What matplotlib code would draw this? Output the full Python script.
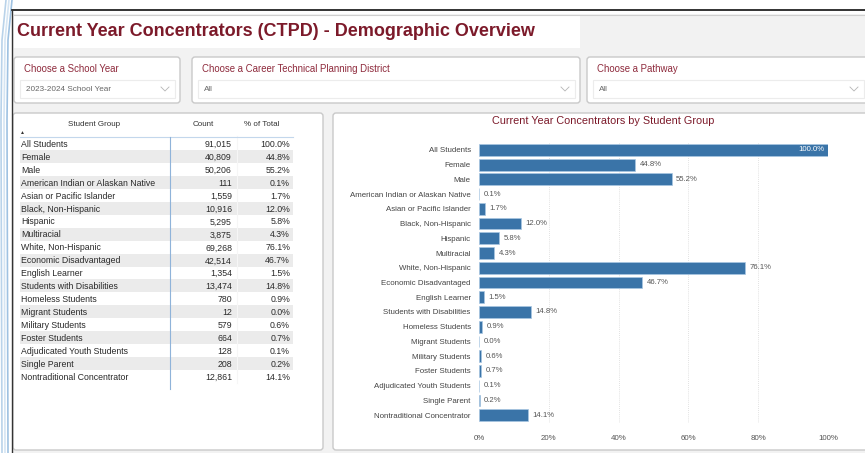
import matplotlib.pyplot as plt
from matplotlib.patches import FancyBboxPatch, Rectangle

plt.rcParams['font.family'] = ['Liberation Sans', 'DejaVu Sans']

# Data
GROUPS = ['All Students', 'Female', 'Male', 'American Indian or Alaskan Native',
          'Asian or Pacific Islander', 'Black, Non-Hispanic', 'Hispanic', 'Multiracial',
          'White, Non-Hispanic', 'Economic Disadvantaged', 'English Learner',
          'Students with Disabilities', 'Homeless Students', 'Migrant Students',
          'Military Students', 'Foster Students', 'Adjudicated Youth Students',
          'Single Parent', 'Nontraditional Concentrator']
COUNTS = [91015, 40809, 50206, 111, 1559, 10916, 5295, 3875, 69268, 42514,
          1354, 13474, 780, 12, 579, 664, 128, 208, 12861]
PCTS = [100.0, 44.8, 55.2, 0.1, 1.7, 12.0, 5.8, 4.3, 76.1, 46.7,
        1.5, 14.8, 0.9, 0.0, 0.6, 0.7, 0.1, 0.2, 14.1]
XTICKS = [0, 20, 40, 60, 80, 100]
FILTERS = [('Choose a School Year', '2023-2024 School Year'),
           ('Choose a Career Technical Planning District', 'All'),
           ('Choose a Pathway', 'All')]

W, H = 865, 453
TITLE_RED = '#7c1a2a'
LABEL_RED = '#8e2a3c'
BAR_BLUE = '#3a74a8'
EDGE = '#c9c9c9'

fig = plt.figure(figsize=(W / 100, H / 100), dpi=100)
fig.patch.set_facecolor('white')

# background canvas in pixel coords
bg = fig.add_axes([0, 0, 1, 1])
bg.set_xlim(0, W)
bg.set_ylim(H, 0)
bg.axis('off')

# slide decoration on the far left
for x0, c in [(2, '#b9d3ea'), (5, '#d5e5f3'), (8, '#9fc2e2')]:
    bg.plot([x0 + 4, x0, x0 - 1, x0], [0, 40, 120, 453], color=c, lw=1.2)

bg.add_patch(Rectangle((12, 14), W, H, facecolor='#f2f2f2', edgecolor='none'))
bg.plot([12, W], [9.5, 9.5], color='#111111', lw=1.2)
bg.plot([12, 12], [9.5, H], color='#333333', lw=1.0)
bg.plot([14, W], [14.5, 14.5], color='#cfcfcf', lw=0.8)

# title block
bg.add_patch(Rectangle((14, 15), 566, 33, facecolor='white', edgecolor='none'))
bg.text(17, 31, 'Current Year Concentrators (CTPD) - Demographic Overview',
        fontsize=13.0, fontweight='bold', color=TITLE_RED, va='center', ha='left')

# filter boxes
boxes = [(14, 180), (192, 580), (587, 870)]
for (x0, x1), (lab, val) in zip(boxes, FILTERS):
    bg.add_patch(FancyBboxPatch((x0, 57), x1 - x0, 46, boxstyle='round,pad=0,rounding_size=3',
                                facecolor='white', edgecolor=EDGE, lw=1.0))
    bg.text(x0 + 10, 69, lab, fontsize=6.9, color=LABEL_RED, va='center')
    fx1 = min(x1 - 5, W - 1)
    bg.add_patch(Rectangle((x0 + 6, 80), fx1 - x0 - 6, 18, facecolor='white',
                           edgecolor='#ececec', lw=0.8))
    bg.text(x0 + 12, 89.5, val, fontsize=5.9, color='#666666', va='center')
    cx = fx1 - 10
    bg.plot([cx - 4, cx, cx + 4], [87, 91, 87], color='#b5b5b5', lw=0.6)

# panels
bg.add_patch(FancyBboxPatch((13, 113), 310, 337, boxstyle='round,pad=0,rounding_size=3',
                            facecolor='white', edgecolor=EDGE, lw=1.0))
bg.add_patch(FancyBboxPatch((333, 113), 540, 337, boxstyle='round,pad=0,rounding_size=3',
                            facecolor='white', edgecolor=EDGE, lw=1.0))

# table
row_h = 12.95
y0 = 143.5
hdr_y = 125
bg.text(94, hdr_y, 'Student Group', fontsize=5.8, color='#333333', ha='center', va='center')
bg.text(203, hdr_y, 'Count', fontsize=5.8, color='#333333', ha='center', va='center')
bg.text(262, hdr_y, '% of Total', fontsize=5.8, color='#333333', ha='center', va='center')
bg.text(20, 133, '\u25b2', fontsize=3.6, color='#333333', ha='left', va='center')
for i, (g, c, p) in enumerate(zip(GROUPS, COUNTS, PCTS)):
    yc = y0 + i * row_h
    if i % 2 == 1:
        bg.add_patch(Rectangle((20, yc - row_h / 2), 273, row_h, facecolor='#ebebeb',
                               edgecolor='none'))
    bg.text(21, yc + 0.8, g, fontsize=6.3, color='#2a2a2a', va='center', ha='left')
    bg.text(232, yc + 0.8, f'{c:,}', fontsize=6.3, color='#2a2a2a', va='center', ha='right')
    bg.text(290, yc + 0.8, f'{p:.1f}%', fontsize=6.3, color='#2a2a2a', va='center', ha='right')
table_bottom = y0 + (len(GROUPS) - 0.5) * row_h
bg.plot([237, 237], [136, table_bottom], color='#f6f6f6', lw=0.8)
bg.plot([20, 293], [136.5, 136.5], color='#c3d7ec', lw=0.8)
bg.plot([170, 170], [136.5, table_bottom + 6], color='#8fb3d9', lw=0.8)

# chart title
bg.text(603, 121.5, 'Current Year Concentrators by Student Group', fontsize=7.8,
        color=TITLE_RED, ha='center', va='center')

# bar chart
ax = fig.add_axes([479 / W, 1 - 422.5 / H, (828 - 479) / W, 280 / H])
ax.set_facecolor('none')
ypos = list(range(len(GROUPS)))
ax.barh(ypos, PCTS, height=0.8, color=BAR_BLUE, edgecolor='#a8c6e2', lw=0.5, zorder=3)
ax.set_xlim(0, 100)
ax.set_ylim(len(GROUPS) - 0.5, -0.5)
ax.set_yticks(ypos)
ax.set_yticklabels(GROUPS, fontsize=5.7, color='#444444')
ax.set_xticks(XTICKS)
ax.set_xticklabels([f'{t}%' for t in XTICKS], fontsize=5.7, color='#555555')
ax.tick_params(axis='both', length=0, pad=6)
ax.tick_params(axis='x', pad=9)
for t in XTICKS[1:]:
    ax.axvline(t, color='#d8d8d8', lw=0.6, ls=(0, (1, 1.5)), zorder=1)
for s in ax.spines.values():
    s.set_visible(False)
for y, p in zip(ypos, PCTS):
    if p >= 90:
        ax.text(p - 0.9, y, f'{p:.1f}%', fontsize=5.6, color='white', ha='right', va='center', zorder=4)
    else:
        ax.text(p + 1.3, y, f'{p:.1f}%', fontsize=5.6, color='#555555', ha='left', va='center', zorder=4)

fig.savefig('out.png', dpi=100)
